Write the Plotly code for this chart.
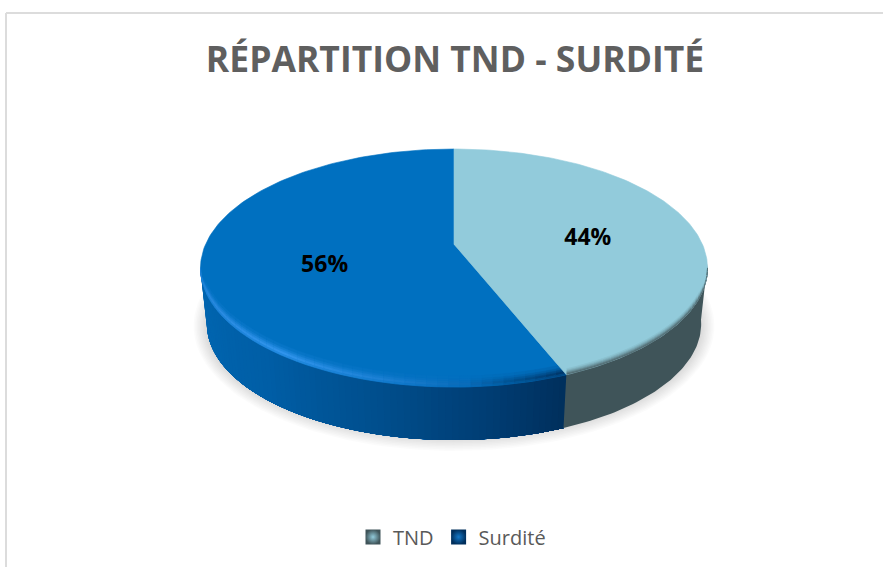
import numpy as np
import plotly.graph_objects as go

title = "RÉPARTITION TND - SURDITÉ"
categories = ["TND", "Surdité"]
values = [44, 56]

face_colors = ["#92CBDB", "#0070C0"]
legend_centers = ["#3F5459", "#002F5C"]
legend_edges = ["#92CBDB", "#1478C8"]
label_radius = [0.56, 0.52]
label_dy = [7, 11]

W, H = 883, 567
CX, CY, RX, RY, K = 454.0, 268.0, 253.5, 119.0, 0.2   # ellipse + perspective
DEPTH, BOTTOM_SCALE = 56.0, 0.975
SIL_RIGHT, SIL_LEFT = 101.5, 258.5                    # silhouette angles of the disc


def proj(theta, r=1.0):
    """theta in degrees clockwise from 12 o'clock, onto the tilted disc."""
    t = np.radians(theta)
    u, v = r * np.sin(t), -r * np.cos(t)
    w = 1 - K * v
    return (CX + RX * (u / w) * np.sqrt(1 - K**2),
            CY + RY * (v / w - K / (1 - K**2)) * (1 - K**2))


def proj_bottom(theta):
    x, y = proj(theta)
    return CX + (x - CX) * BOTTOM_SCALE, CY + DEPTH + (y - CY) * BOTTOM_SCALE


def hex2rgb(c):
    return np.array([int(c[i:i + 2], 16) for i in (1, 3, 5)], float)


def ramp(stops, t, base=None, weight=1.0):
    xs = [s[0] for s in stops]
    cols = np.array([hex2rgb(s[1]) for s in stops])
    rgb = np.array([np.interp(t, xs, cols[:, i]) for i in range(3)])
    if base is not None:
        rgb = hex2rgb(base) * (1 - weight) + rgb * weight
    return "rgb(%d,%d,%d)" % tuple(int(round(c)) for c in rgb)


fig = go.Figure()


def poly(xs, ys, color, lw=0.6):
    fig.add_trace(go.Scatter(x=xs, y=ys, mode="lines", fill="toself", fillcolor=color,
                             line=dict(width=lw, color=color), hoverinfo="skip",
                             showlegend=False))


def face(start, stop, col):
    tt = np.linspace(start, stop, 160)
    x, y = proj(tt)
    vx, vy = proj(0.0, 0.0)
    poly(np.r_[vx, x, vx], np.r_[vy, y, vy], col)


def taper(t):
    """Bevel width factor: vanishes at the disc's silhouette points."""
    s = np.clip(np.minimum(t - SIL_RIGHT, SIL_LEFT - t) / 14.0, 0, 1)
    return s * s * (3 - 2 * s)


def band(t0, t1, d0, d1, color):
    tt = np.linspace(t0, t1, 5)
    x, y = proj(tt)
    f = taper(tt)
    poly(np.r_[x, x[::-1]], np.r_[y - d0 * f, (y - d1 * f)[::-1]], color, lw=0.5)


# slice boundaries from the values
total = sum(values)
a0 = 0.0
a1 = 360.0 * values[0] / total
a2 = 360.0

# soft shadow
th = np.linspace(0, 360, 181)
for grow in np.arange(9, -6, -1.5):
    xs = CX + (RX + grow - 2) * np.sin(np.radians(th))
    ys = CY + 58 + (RY + grow - 3) * np.cos(np.radians(th))
    fig.add_trace(go.Scatter(x=xs, y=ys, mode="lines", fill="toself",
                             fillcolor="rgba(0,0,0,0.016)", line=dict(width=0),
                             hoverinfo="skip", showlegend=False))

# side wall, blue part with its gradient (overlapping strips, so no seams)
side_blue = [(a1, "#002F5C"), (a1 + 14, "#003C72"), (195, "#004F8E"), (220, "#005EA6"), (245, "#0064AE"), (270, "#0A68B2")]
edges = np.linspace(SIL_LEFT + 2, a1, 80)
for t0, t1 in zip(edges[:-1], edges[1:]):
    tt = np.linspace(t0, a1, 50)
    xt, yt = proj(tt)
    xb, yb = proj_bottom(tt)
    poly(np.r_[xt, xb[::-1]], np.r_[yt, yb[::-1]], ramp(side_blue, (t0 + t1) / 2), lw=0)

# side wall, TND part
tt = np.linspace(SIL_RIGHT - 2, a1, 60)
xt, yt = proj(tt)
xb, yb = proj_bottom(tt)
poly(np.r_[xt, xb[::-1]], np.r_[yt, yb[::-1]], "#3F5459", lw=0)

# blue top face with its bevel
face(a1, a2, face_colors[1])
glow = [(a1, "#003567"), (a1 + 10, "#00508F"), (178, "#0A6CBA"), (195, "#1E82D6"), (215, "#3094EC"), (240, "#2A8AE0"), (SIL_LEFT, "#2484D8")]
blue_layers = [(8.0, 11.0, 0.15), (6.0, 8.0, 0.38), (4.0, 6.0, 0.7), (1.5, 4.0, 1.0), (0.0, 1.5, 0.75)]
edges = np.linspace(a1 + 0.2, SIL_LEFT, 50)
for t0, t1 in zip(edges[:-1], edges[1:]):
    for d0, d1, w in blue_layers:
        band(t0, t1, d0, d1, ramp(glow, (t0 + t1) / 2, face_colors[1], w))

# TND top face with its darker bevel, drawn over the blue bevel's end
face(a0, a1, face_colors[0])
tnd_layers = [(4.5, 6.0, "#8AC0CF"), (3.2, 4.5, "#7EAEBB"), (2.0, 3.2, "#6F99A4"), (1.0, 2.0, "#608089"), (0.0, 1.0, "#536C73")]
edges = np.linspace(SIL_RIGHT, a1 - 0.1, 30)
for t0, t1 in zip(edges[:-1], edges[1:]):
    for d0, d1, c in tnd_layers:
        band(t0, t1, d0, d1, c)

# percentage labels placed at each slice's mid angle
lx, ly, lt = [], [], []
start = 0.0
for v, rad, dy in zip(values, label_radius, label_dy):
    sweep = 360.0 * v / total
    x, y = proj(start + sweep / 2, rad)
    lx.append(float(x))
    ly.append(float(y) + dy)
    lt.append(f"{round(100 * v / total)}%")
    start += sweep
fig.add_trace(go.Scatter(x=lx, y=ly, mode="text", text=lt, hoverinfo="skip", showlegend=False,
                         textfont=dict(family="Open Sans", size=23, color="#000000", weight="bold")))

# legend entries
for name, col, edge_col in zip(categories, legend_centers, legend_edges):
    fig.add_trace(go.Scatter(x=[None], y=[None], mode="markers", name=name,
                             marker=dict(symbol="square", size=15, color=col,
                                         gradient=dict(type="radial", color=edge_col),
                                         line=dict(width=0))))

fig.update_layout(
    width=W, height=H,
    margin=dict(l=0, r=0, t=0, b=0),
    paper_bgcolor="white", plot_bgcolor="white",
    title=dict(text=title, x=455 / W, xanchor="center", y=1 - 60 / H, yanchor="middle",
               font=dict(family="Open Sans", size=35.5, color="#5F5F5F", weight="bold")),
    xaxis=dict(range=[0, W], visible=False, fixedrange=True),
    yaxis=dict(range=[H, 0], visible=False, fixedrange=True),
    legend=dict(orientation="h", x=452 / W, xanchor="center", y=1 - 537 / H, yanchor="middle",
                font=dict(family="Open Sans", size=20, color="#595959"),
                bgcolor="rgba(0,0,0,0)", itemwidth=30, tracegroupgap=0),
    shapes=[
        dict(type="line", xref="paper", yref="paper", x0=6 / W, x1=1, y0=1 - 13 / H, y1=1 - 13 / H,
             line=dict(color="#DCDCDC", width=2)),
        dict(type="line", xref="paper", yref="paper", x0=6 / W, x1=6 / W, y0=1 - 13 / H, y1=0,
             line=dict(color="#DCDCDC", width=2)),
    ],
)
fig.write_html("out.html", config={"displayModeBar": False},
               post_script="document.body.style.margin='0';")
